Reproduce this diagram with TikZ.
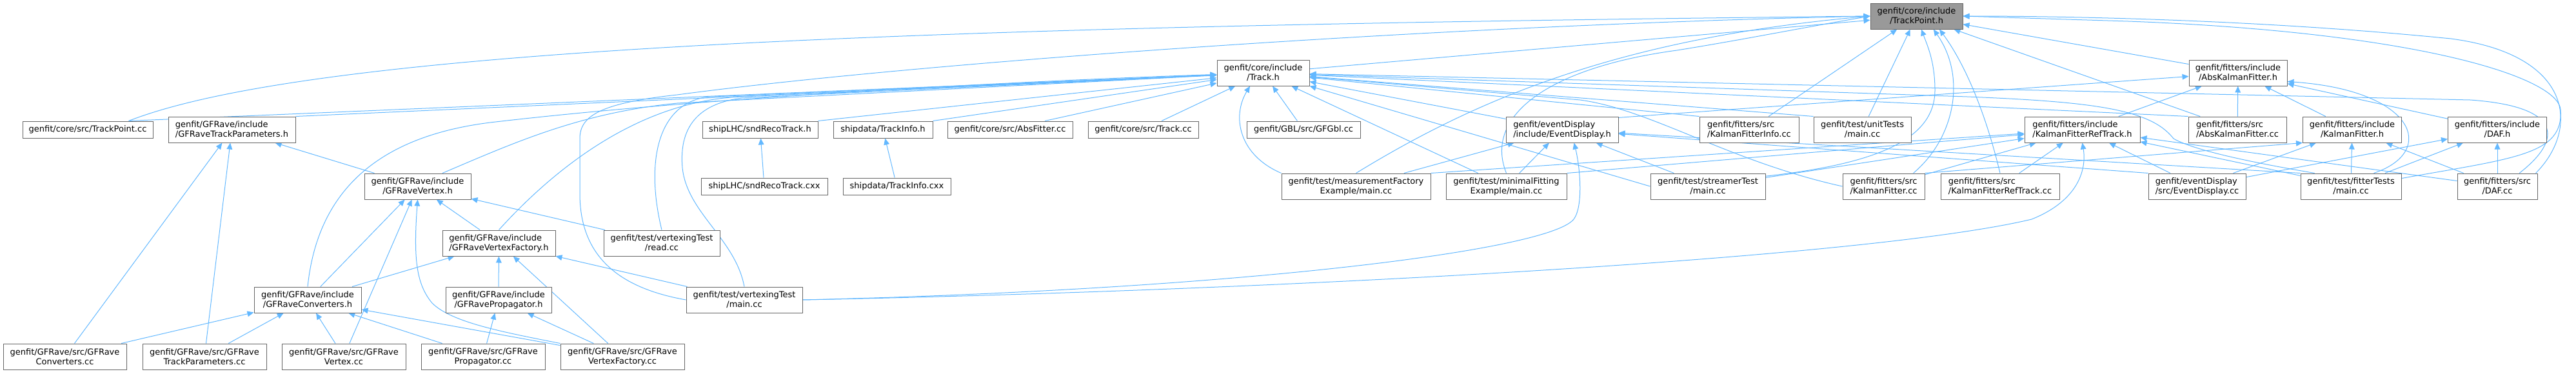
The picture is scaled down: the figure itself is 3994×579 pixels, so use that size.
\documentclass[tikz,border=0pt]{standalone}
\usepackage{fontspec}
\setmainfont{DejaVu Sans}
\usetikzlibrary{arrows.meta,backgrounds}
\definecolor{linkblue}{HTML}{63B8FF}
\definecolor{boxgrey}{HTML}{666666}
\definecolor{rootgrey}{HTML}{999999}

\begin{document}
\begin{tikzpicture}[x=0.75pt,y=-0.75pt,
  file/.style={draw=boxgrey,fill=white,line width=0.75pt,inner sep=1pt,minimum height=30pt,align=center,font=\fontsize{9.75}{11.25}\selectfont},
  one/.style={file,minimum height=19.5pt},
  bw/.style={minimum width=#1*0.75pt},
  inc/.style={draw=linkblue,line width=0.75pt,-{Triangle[length=7.5pt,width=6.5pt]}}]
\useasboundingbox (0,0) rectangle (3994,579);

% files, one row per level
\node[file,fill=rootgrey,bw=143] (tp) at (2971.5,25) {genfit/core/include\\/TrackPoint.h};

\node[file,bw=143] (track) at (1958.5,113) {genfit/core/include\\/Track.h};
\node[file,bw=152] (akfh) at (3470,113) {genfit/fitters/include\\/AbsKalmanFitter.h};

\node[one,bw=202] (tpcc) at (136,201) {genfit/core/src/TrackPoint.cc};
\node[file,bw=197,align=left] (gfrtph) at (359.5,201) {genfit/GFRave/include\\/GFRaveTrackParameters.h};
\node[one,bw=179] (snd) at (1178.5,201) {shipLHC/sndRecoTrack.h};
\node[one,bw=154] (tinfo) at (1369,201) {shipdata/TrackInfo.h};
\node[one,bw=194] (absfit) at (1566,201) {genfit/core/src/AbsFitter.cc};
\node[one,bw=171] (trackcc) at (1772.5,201) {genfit/core/src/Track.cc};
\node[one,bw=176] (gbl) at (2021,201) {genfit/GBL/src/GFGbl.cc};
\node[file,bw=174,align=left] (edh) at (2422,201) {genfit/eventDisplay\\/include/EventDisplay.h};
\node[file,bw=154,align=left] (kfinfo) at (2712,201) {genfit/fitters/src\\/KalmanFitterInfo.cc};
\node[file,bw=151] (unit) at (2887.5,201) {genfit/test/unitTests\\/main.cc};
\node[file,bw=179,align=left] (kfrth) at (3228.5,201) {genfit/fitters/include\\/KalmanFitterRefTrack.h};
\node[file,bw=152,align=left] (akfcc) at (3469,201) {genfit/fitters/src\\/AbsKalmanFitter.cc};
\node[file,bw=153] (kfh) at (3647,201) {genfit/fitters/include\\/KalmanFitter.h};
\node[file,bw=153] (dafh) at (3872,201) {genfit/fitters/include\\/DAF.h};

\node[file,bw=165] (gfrv) at (647.5,289) {genfit/GFRave/include\\/GFRaveVertex.h};
\node[one,bw=196] (sndcxx) at (1185,289) {shipLHC/sndRecoTrack.cxx};
\node[one,bw=167] (ticxx) at (1390.5,289) {shipdata/TrackInfo.cxx};
\node[file,bw=231] (mfe) at (2102.5,289) {genfit/test/measurementFactory\\Example/main.cc};
\node[file,bw=187] (mfit) at (2335.5,289) {genfit/test/minimalFitting\\Example/main.cc};
\node[file,bw=178] (stream) at (2648,289) {genfit/test/streamerTest\\/main.cc};
\node[file,bw=127,align=left] (kfcc) at (2920.5,289) {genfit/fitters/src\\/KalmanFitter.cc};
\node[file,bw=184,align=left] (kfrtcc) at (3101,289) {genfit/fitters/src\\/KalmanFitterRefTrack.cc};
\node[file,bw=151,align=left] (edcc) at (3406.5,289) {genfit/eventDisplay\\/src/EventDisplay.cc};
\node[file,bw=156] (ftest) at (3645,289) {genfit/test/fitterTests\\/main.cc};
\node[file,bw=124] (dafcc) at (3872,289) {genfit/fitters/src\\/DAF.cc};

\node[file,bw=175,align=left] (gfrvf) at (773.5,377) {genfit/GFRave/include\\/GFRaveVertexFactory.h};
\node[file,bw=180] (read) at (1026,377) {genfit/test/vertexingTest\\/read.cc};

\node[file,bw=166] (gfrc) at (477,465) {genfit/GFRave/include\\/GFRaveConverters.h};
\node[file,bw=164] (gfrp) at (773,465) {genfit/GFRave/include\\/GFRavePropagator.h};
\node[file,bw=180] (vmain) at (1154,465) {genfit/test/vertexingTest\\/main.cc};

\node[file,bw=191] (gfrccc) at (100.5,553) {genfit/GFRave/src/GFRave\\Converters.cc};
\node[file,bw=192] (gfrtpcc) at (317,553) {genfit/GFRave/src/GFRave\\TrackParameters.cc};
\node[file,bw=192] (gfrvcc) at (533,553) {genfit/GFRave/src/GFRave\\Vertex.cc};
\node[file,bw=192] (gfrpcc) at (749,553) {genfit/GFRave/src/GFRave\\Propagator.cc};
\node[file,bw=192] (gfrvfcc) at (965,553) {genfit/GFRave/src/GFRave\\VertexFactory.cc};

\begin{scope}[on background layer]
% into TrackPoint.h
\draw[inc] (track) -- (tp);
\draw[inc] (akfh) -- (tp);
\draw[inc] (tpcc.12) .. controls (500,70) and (1500,40) .. (tp.west);
\draw[inc] (vmain.west) .. controls (950,445) and (899,390) .. (899,300) -- (899,215) .. controls (899,180) and (930,160) .. (1050,147) .. controls (1400,100) and (2200,40) .. (tp.west);
\draw[inc] (mfe.north) .. controls (2280,160) and (2500,60) .. (tp.west);
\draw[inc] (mfit.north) .. controls (2300,180) and (2400,105) .. (2600,78) .. controls (2700,62) and (2800,42) .. (tp.west);
\draw[inc] (kfinfo) -- (tp);
\draw[inc] (unit) -- (tp);
\draw[inc] (stream.10) .. controls (2900,255) and (3000,220) .. (3000,140) .. controls (3000,95) and (2988,70) .. (tp.290);
\draw[inc] (kfcc.24) .. controls (3030,215) and (3050,120) .. (tp.322);
\draw[inc] (kfrtcc.north) .. controls (3075,160) and (3040,90) .. (tp.330);
\draw[inc] (akfcc) -- (tp);
\draw[inc] (dafcc.19) .. controls (4000,200) and (3990,85) .. (3800,60) .. controls (3500,30) and (3200,25) .. (tp.east);
\draw[inc] (ftest.9) .. controls (3900,245) and (3975,240) .. (3970,170) .. controls (3966,120) and (3750,50) .. (3300,33) -- (tp.east);
% into Track.h
\draw[inc] (tpcc.12) -- (track);
\draw[inc] (gfrtph.north east) -- (track);
\draw[inc] (gfrc.north) .. controls (490,320) and (560,215) .. (760,190) .. controls (1100,150) and (1600,125) .. (track);
\draw[inc] (gfrv.28) .. controls (800,220) and (900,175) .. (1050,160) -- (track);
\draw[inc] (gfrvf.north) .. controls (870,250) and (1000,156) .. (1150,150) -- (track);
\draw[inc] (read.north) .. controls (1000,250) and (1020,158) .. (1100,150) -- (track);
\draw[inc] (vmain.north) .. controls (1140,370) and (1065,330) .. (1058,260) .. controls (1052,190) and (1090,160) .. (1150,152) -- (track);
\draw[inc] (snd.north east) -- (track);
\draw[inc] (tinfo.north east) -- (track);
\draw[inc] (absfit.14) -- (track);
\draw[inc] (trackcc) -- (track);
\draw[inc] (mfe.north west) .. controls (1920,240) and (1910,180) .. (track.225);
\draw[inc] (gbl) -- (track);
\draw[inc] (mfit) -- (track);
\draw[inc] (stream.west) -- (track.south east);
\draw[inc] (edh) -- (track);
\draw[inc] (kfinfo.north west) -- (track);
\draw[inc] (unit.north west) -- (track);
\draw[inc] (kfcc.west) .. controls (2680,250) and (2560,170) .. (2450,155) -- (track);
\draw[inc] (akfcc.north west) -- (track);
\draw[inc] (ftest.160) .. controls (3480,250) and (3400,232) .. (3370,215) .. controls (3335,170) and (3250,158) .. (3050,150) -- (track);
\draw[inc] (dafcc.31) .. controls (3975,215) and (3972,165) .. (3830,155) -- (track);
% into AbsKalmanFitter.h
\draw[inc] (edh.12) -- (akfh);
\draw[inc] (kfrth) -- (akfh);
\draw[inc] (akfcc) -- (akfh);
\draw[inc] (kfh) -- (akfh);
\draw[inc] (ftest.30) .. controls (3780,235) and (3745,140) .. (akfh.350);
\draw[inc] (dafh) -- (akfh);
% into KalmanFitterRefTrack.h
\draw[inc] (mfe.north east) -- (kfrth);
\draw[inc] (mfit.north east) -- (kfrth);
\draw[inc] (stream) -- (kfrth);
\draw[inc] (kfcc) -- (kfrth);
\draw[inc] (kfrtcc) -- (kfrth);
\draw[inc] (edcc) -- (kfrth);
\draw[inc] (ftest) -- (kfrth);
\draw[inc] (dafcc) -- (kfrth);
\draw[inc] (vmain.east) .. controls (2000,450) and (2900,400) .. (3150,340) .. controls (3225,310) and (3235,260) .. (kfrth.south);
% into KalmanFitter.h and DAF.h
\draw[inc] (kfcc.north east) -- (kfh.south west);
\draw[inc] (edcc) -- (kfh);
\draw[inc] (ftest) -- (kfh);
\draw[inc] (dafcc) -- (kfh);
\draw[inc] (edcc) -- (dafh);
\draw[inc] (ftest) -- (dafh);
\draw[inc] (dafcc) -- (dafh);
% into EventDisplay.h
\draw[inc] (mfe) -- (edh);
\draw[inc] (mfit) -- (edh);
\draw[inc] (stream) -- (edh);
\draw[inc] (edcc.north west) -- (edh);
\draw[inc] (ftest.north west) -- (edh);
\draw[inc] (vmain.east) .. controls (1900,450) and (2400,390) .. (2440,340) .. controls (2455,320) and (2450,260) .. (edh.312);
% GFRave
\draw[inc] (gfrv) -- (gfrtph);
\draw[inc] (gfrccc) -- (gfrtph);
\draw[inc] (gfrtpcc) -- (gfrtph);
\draw[inc] (gfrc) -- (gfrv);
\draw[inc] (gfrvf) -- (gfrv);
\draw[inc] (read) -- (gfrv);
\draw[inc] (gfrvcc) -- (gfrv);
\draw[inc] (gfrvfcc.north west) .. controls (780,515) and (700,500) .. (670,470) .. controls (645,440) and (641,400) .. (gfrv.south);
\draw[inc] (gfrc) -- (gfrvf);
\draw[inc] (gfrp) -- (gfrvf);
\draw[inc] (gfrvfcc) -- (gfrvf);
\draw[inc] (vmain) -- (gfrvf);
\draw[inc] (gfrccc) -- (gfrc);
\draw[inc] (gfrtpcc) -- (gfrc);
\draw[inc] (gfrvcc) -- (gfrc);
\draw[inc] (gfrpcc) -- (gfrc);
\draw[inc] (gfrvfcc) -- (gfrc);
\draw[inc] (gfrpcc) -- (gfrp);
\draw[inc] (gfrvfcc) -- (gfrp);
% ship
\draw[inc] (sndcxx) -- (snd);
\draw[inc] (ticxx) -- (tinfo);
\end{scope}
\end{tikzpicture}
\end{document}
